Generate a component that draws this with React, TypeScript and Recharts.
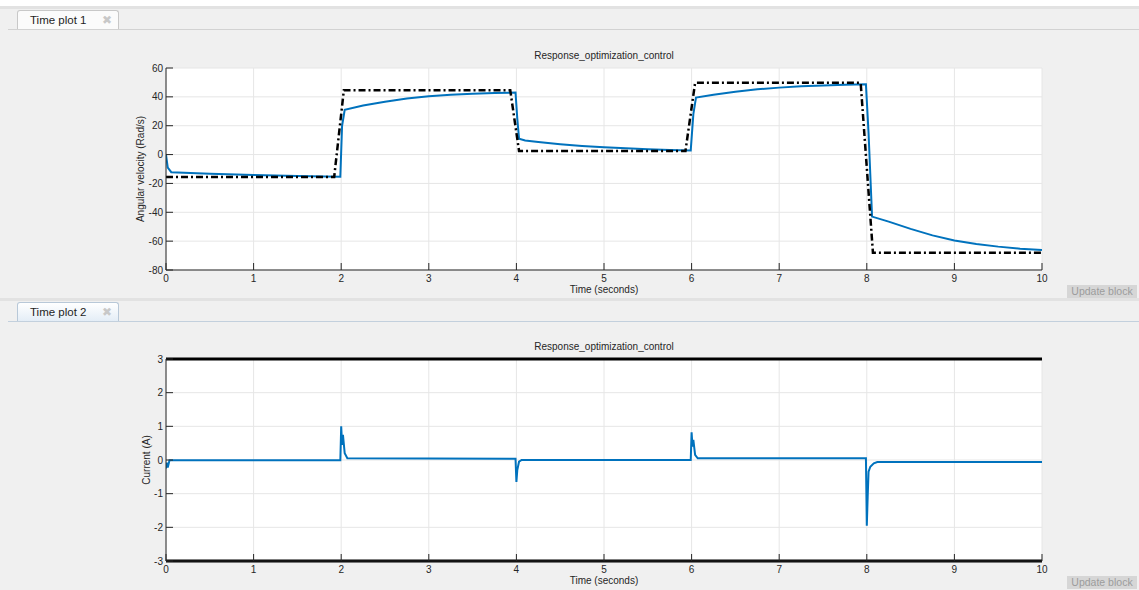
import React from 'react';
import { LineChart, Line, XAxis, YAxis, CartesianGrid, ReferenceLine } from 'recharts';

const FONT = "'Liberation Sans', Arial, sans-serif";
const TXT = '#262626';

const timeTicks = [0, 1, 2, 3, 4, 5, 6, 7, 8, 9, 10];
const velocityTicks = [-80, -60, -40, -20, 0, 20, 40, 60];
const currentTicks = [-3, -2, -1, 0, 1, 2, 3];

const refTime = [0, 1.92, 2.03, 3.93, 4.03, 5.93, 6.04, 7.93, 8.07, 10];
const refVelocity = [-15.5, -15.5, 44.5, 44.5, 2.5, 2.5, 49.7, 49.7, -68, -68];

const measTime = [0, 0.02, 0.06, 0.5, 1, 1.5, 1.99, 2.01, 2.04, 2.25, 2.5, 2.75, 3, 3.25, 3.5, 3.75, 3.99, 4.01, 4.03, 4.1, 4.25, 4.5, 4.75, 5, 5.25, 5.5, 5.75, 5.99, 6.02, 6.05, 6.25, 6.5, 6.75, 7, 7.25, 7.5, 7.75, 7.99, 8.02, 8.06, 8.25, 8.5, 8.75, 9, 9.25, 9.5, 9.75, 10];
const measVelocity = [0, -9, -12.2, -13.3, -14.2, -14.9, -15.4, 20, 31, 34, 36.6, 38.8, 40.4, 41.5, 42.2, 42.7, 43, 25, 11, 9.8, 8.7, 7.2, 6, 5.1, 4.3, 3.7, 3.2, 2.9, 28, 39.5, 41.5, 43.6, 45.2, 46.4, 47.3, 47.9, 48.4, 48.7, 15, -43, -46.5, -51.5, -56, -59.5, -62, -63.8, -65.2, -66.2];

const currTime = [0, 0.01, 0.02, 0.04, 1.99, 2.0, 2.01, 2.02, 2.04, 2.07, 3.99, 4.0, 4.01, 4.03, 4.06, 5.99, 6.0, 6.01, 6.02, 6.04, 6.07, 7.99, 8.0, 8.01, 8.02, 8.04, 8.08, 8.12, 10];
const currValue = [-0.25, -0.08, -0.22, -0.01, -0.01, 1.0, 0.45, 0.75, 0.2, 0.05, 0.04, -0.65, -0.3, -0.05, 0, 0.0, 0.82, 0.4, 0.6, 0.15, 0.05, 0.05, -1.95, -1.1, -0.35, -0.2, -0.1, -0.06, -0.06];

const toPoints = (ts: number[], vs: number[]) => ts.map((t, i) => ({ t, v: vs[i] }));
const refData = toPoints(refTime, refVelocity);
const measData = toPoints(measTime, measVelocity);
const currData = toPoints(currTime, currValue);

const TL = 7;
const BottomTick = (p: any) => (
  <g>
    <line x1={p.x} x2={p.x} y1={p.y} y2={p.y - TL} stroke={TXT} strokeWidth={1} />
    <text x={p.x} y={p.y + 11.5} textAnchor="middle" fontSize={10} fill={TXT} fontFamily={FONT}>{p.payload.value}</text>
  </g>
);
const LeftTick = (p: any) => (
  <g>
    <line x1={p.x} x2={p.x + TL} y1={p.y} y2={p.y} stroke={TXT} strokeWidth={1} />
    <text x={p.x - 3} y={p.y + 3.5} textAnchor="end" fontSize={10} fill={TXT} fontFamily={FONT}>{p.payload.value}</text>
  </g>
);
const TopTick = (p: any) => <line x1={p.x} x2={p.x} y1={p.y} y2={p.y + TL} stroke={TXT} strokeWidth={1} />;
const RightTick = (p: any) => <line x1={p.x} x2={p.x - TL} y1={p.y} y2={p.y} stroke={TXT} strokeWidth={1} />;

const W = 1139;
const H = 300;
const MARGIN = { top: 68, right: 97, bottom: 0, left: 136 };

function Tab({ top, label, active }: { top: number; label: string; active: boolean }) {
  return (
    <>
      <div style={{ position: 'absolute', left: 0, top: top - 4, width: W, height: 3, background: '#e2e2e2' }} />
      <div style={{ position: 'absolute', left: 8, top: top + 19, width: W - 8, height: 1, background: active ? '#c3d0dd' : '#d2d2d2' }} />
      <div
        style={{
          position: 'absolute', left: 17, top: top, width: 102, height: 19, boxSizing: 'border-box',
          border: `1px solid ${active ? '#b8c8d8' : '#c8c8c8'}`, borderBottom: 'none', borderRadius: '3px 3px 0 0',
          background: active ? 'linear-gradient(#ffffff, #e4edf6)' : '#fbfbfb',
          fontFamily: "'Liberation Sans', Arial, sans-serif", fontSize: 11.5, color: '#1e1e1e', lineHeight: '18px',
        }}
      >
        <span style={{ position: 'absolute', left: 12 }}>{label}</span>
        <span style={{ position: 'absolute', left: 84, top: 0, fontSize: 12, color: '#c8c8c8', fontFamily: "'DejaVu Sans', sans-serif" }}>✖</span>
      </div>
    </>
  );
}

function Plot({ top, yTicks, yDomain, yLabel, yLabelX, children }: any) {
  const plotTop = top + 68;
  const plotBottom = top + 270;
  const centerY = (plotTop + plotBottom) / 2;
  return (
    <>
      <div style={{ position: 'absolute', left: 0, top, width: W, height: H }}>
        <LineChart width={W} height={H} margin={MARGIN}>
          <CartesianGrid stroke="#e6e6e6" fill="#ffffff" fillOpacity={1} horizontalValues={yTicks} verticalValues={timeTicks} />
          <XAxis xAxisId={0} type="number" dataKey="t" domain={[0, 10]} ticks={timeTicks} height={30} tickSize={0} tickMargin={0}
            axisLine={{ stroke: TXT }} tick={<BottomTick />} tickLine={false} allowDataOverflow interval={0} />
          <XAxis xAxisId="top" orientation="top" type="number" dataKey="t" domain={[0, 10]} ticks={timeTicks} height={0} tickSize={0} tickMargin={0}
            axisLine={{ stroke: TXT }} tick={<TopTick />} tickLine={false} interval={0} />
          <YAxis yAxisId={0} type="number" domain={yDomain} ticks={yTicks} width={30} tickSize={0} tickMargin={0}
            axisLine={{ stroke: TXT }} tick={<LeftTick />} tickLine={false} allowDataOverflow interval={0} />
          <YAxis yAxisId="right" orientation="right" type="number" domain={yDomain} ticks={yTicks} width={0} tickSize={0} tickMargin={0}
            axisLine={{ stroke: TXT }} tick={<RightTick />} tickLine={false} interval={0} />
          {children}
        </LineChart>
      </div>
      <div style={{ position: 'absolute', left: 404, top: top + 50, width: 400, textAlign: 'center', fontFamily: FONT, fontSize: 10, color: TXT, lineHeight: '12px' }}>
        Response_optimization_control
      </div>
      <div style={{ position: 'absolute', left: 404, top: top + 284, width: 400, textAlign: 'center', fontFamily: FONT, fontSize: 10, color: TXT, lineHeight: '11px' }}>
        Time (seconds)
      </div>
      <div style={{ position: 'absolute', left: yLabelX - 100, top: centerY - 6, width: 200, height: 12, textAlign: 'center', fontFamily: FONT, fontSize: 10, color: TXT, lineHeight: '12px', transform: 'rotate(-90deg)' }}>
        {yLabel}
      </div>
      <div style={{ position: 'absolute', left: 1067, top: top + 285, width: 70, height: 13, background: '#d6d6d6', color: '#9c9c9c', fontFamily: FONT, fontSize: 10.5, lineHeight: '13px', textAlign: 'center' }}>
        Update block
      </div>
    </>
  );
}

export default function App() {
  return (
    <div style={{ position: 'absolute', left: 0, top: 0, width: W, height: 590, background: '#f0f0f0', overflow: 'hidden' }}>
      <div style={{ position: 'absolute', left: 0, top: 0, width: W, height: 6, background: '#ffffff' }} />
      <Tab top={10} label="Time plot 1" active={false} />
      <Plot top={0} yTicks={velocityTicks} yDomain={[-80, 60]} yLabel="Angular velocity (Rad/s)" yLabelX={141}>
        <Line data={measData} dataKey="v" type="linear" stroke="#0072bd" strokeWidth={2} dot={false} isAnimationActive={false} />
        <Line data={refData} dataKey="v" type="linear" stroke="#000000" strokeWidth={2.5} strokeDasharray="7 3 2 3" dot={false} isAnimationActive={false} />
      </Plot>
      <Tab top={302} label="Time plot 2" active={true} />
      <Plot top={291} yTicks={currentTicks} yDomain={[-3, 3]} yLabel="Current (A)" yLabelX={147}>
        <ReferenceLine y={3} stroke="#000000" strokeWidth={3} ifOverflow="visible" />
        <ReferenceLine y={-3} stroke="#000000" strokeWidth={3} ifOverflow="visible" />
        <Line data={currData} dataKey="v" type="linear" stroke="#0072bd" strokeWidth={2} dot={false} isAnimationActive={false} />
      </Plot>
    </div>
  );
}
